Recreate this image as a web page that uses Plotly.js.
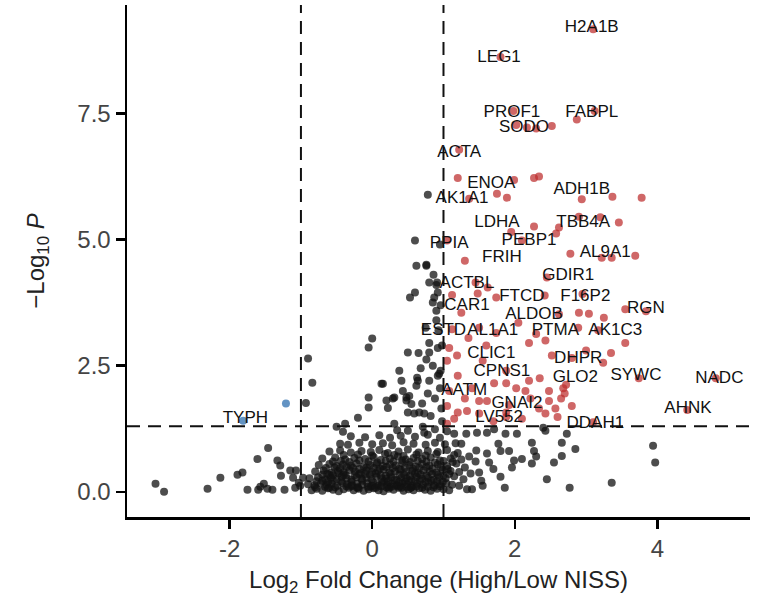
<!DOCTYPE html>
<html>
<head>
<meta charset="utf-8">
<script src="https://cdn.plot.ly/plotly-3.0.1.min.js"></script>
<style>html,body{margin:0;padding:0;background:#fff;}</style>
</head>
<body>
<div id="chart" style="width:768px;height:610px;"></div>
<script>
// ---- Data ----
// Non-significant proteins (black)
const nsX = [
-3.04,-2.92,-2.31,-2.13,-1.89,-1.82,-1.75,-1.61,-1.46,-1.57,-1.52,-1.47,-1.40,-1.60,-1.33,-1.29,-1.28,-1.23,-1.15,-1.07,-1.11,-1.08,-1.01,-0.97,-1.03,
-0.90,-0.84,-0.93,-0.05,0.00,-0.05,-0.05,-0.20,-0.50,-0.38,-0.41,0.13,0.20,0.22,0.31,0.43,0.48,0.52,0.55,0.59,0.62,0.64,0.31,0.73,0.82,0.70,0.78,0.80,0.68,0.76,0.85,0.92,0.95,0.88,0.97,0.65,0.80,0.92,0.75,0.90,0.93,0.85,0.92,0.60,0.80,0.86,0.76,0.60,0.78,0.95,0.90,0.96,0.98,0.98,0.96,0.62,0.76,0.91,0.53,0.87,0.90,0.50,0.80,0.38,0.63,0.94,0.66,0.15,0.41,0.29,0.48,0.71,0.50,
-0.85,-0.78,-0.70,-0.62,-0.55,-0.47,-0.40,-0.33,-0.26,-0.19,-0.12,-0.05,0.02,0.09,0.16,0.23,0.30,0.37,0.44,0.51,0.58,0.66,0.74,0.82,0.91,1.00,1.08,
-0.90,-0.81,-0.72,-0.64,-0.57,-0.49,-0.42,-0.35,-0.28,-0.21,-0.14,-0.07,0.00,0.07,0.14,0.21,0.28,0.35,0.42,0.49,0.56,0.63,0.71,0.79,0.87,0.95,1.04,1.12,1.22,
-0.88,-0.76,-0.66,-0.58,-0.50,-0.43,-0.36,-0.29,-0.22,-0.15,-0.08,-0.01,0.06,0.13,0.20,0.27,0.34,0.41,0.48,0.55,0.62,0.70,0.78,0.86,0.94,1.03,1.15,1.28,
-0.80,-0.68,-0.57,-0.48,-0.40,-0.32,-0.24,-0.16,-0.08,0.00,0.08,0.16,0.24,0.32,0.40,0.48,0.56,0.64,0.72,0.81,0.90,0.99,1.10,1.22,1.38,
-0.75,-0.60,-0.50,-0.41,-0.30,-0.22,-0.12,-0.03,0.06,0.15,0.25,0.33,0.42,0.52,0.61,0.70,0.80,0.92,1.05,1.18,1.30,
-0.70,-0.52,-0.38,-0.25,-0.10,0.02,0.12,0.25,0.36,0.47,0.58,0.70,0.82,0.95,1.10,1.25,
-0.60,-0.45,-0.30,-0.15,-0.02,0.10,0.22,0.37,0.50,0.65,0.78,0.92,1.05,1.20,
-0.45,-0.34,-0.18,0.00,0.15,0.28,0.44,0.58,0.75,0.88,1.02,1.17,
-0.30,-0.10,0.10,0.25,0.40,0.60,0.78,0.95,1.15,
0.35,0.50,0.73,0.88,1.05,
-0.52,-0.36,-0.21,-0.06,0.09,0.24,0.39,0.54,-0.44,-0.29,-0.14,0.01,0.17,0.31,0.46,-0.60,-0.37,-0.10,0.19,0.45,
3.94,3.97,3.36,2.77,1.86,2.85,2.66,2.66,2.55,2.27,2.30,2.24,2.10,1.96,1.99,1.92,1.80,1.77,1.87,2.03,2.24,2.43,2.40,2.73,1.47,1.61,1.71,1.32,1.25,1.50,1.53,1.64,1.61,1.46,1.36,1.80,2.45,1.40,1.55,1.70,1.33,1.45,
-0.80,-0.66,-0.60,-0.29,-0.20,-0.02,0.05,0.13,0.20,0.27,0.34,0.41,0.48,0.55,0.62,0.70,0.78,0.86,0.95,
-0.78,-0.70,-0.62,-0.55,0.23,0.38,0.52,0.60,0.67,0.75,0.83,0.91,0.99,
-0.70,-0.63,-0.55,-0.47,-0.40,-0.25,-0.18,-0.03,0.05,0.12,0.26,0.38,0.53,0.60,0.68,0.76,0.84,0.92,1.00,1.08,
-0.65,-0.53,-0.45,-0.36,-0.27,-0.18,-0.08,0.02,0.11,0.20,0.29,0.38,0.46,0.57,0.66,0.76,0.85,0.96,1.06,
-0.55,-0.44,-0.32,-0.18,-0.05,0.07,0.19,0.30,0.42,0.53,0.64,0.76,0.88,1.00,1.13,
-0.40,-0.20,0.00,0.18,0.31,0.44,0.62,0.75,0.90,1.15
];
const nsY = [
0.16,0.00,0.06,0.28,0.34,0.38,0.04,0.65,0.87,0.10,0.16,0.06,0.04,0.04,0.62,0.52,0.32,0.04,0.42,0.42,0.28,0.08,0.12,0.28,0.18,
2.64,2.16,1.76,2.86,3.04,1.87,1.67,1.47,1.29,1.35,1.19,2.14,1.81,1.66,1.87,2.00,1.81,1.90,1.74,1.55,2.10,2.20,1.35,1.55,1.50,1.75,1.95,2.20,2.45,2.62,2.50,2.30,2.05,1.85,1.65,2.75,2.95,2.85,3.25,3.40,3.20,3.75,3.95,3.95,4.15,4.30,4.50,4.98,5.89,4.90,4.10,3.70,2.90,1.40,2.40,4.48,4.48,4.15,3.85,3.85,3.59,2.76,2.76,2.40,2.26,2.34,1.57,2.14,2.20,1.85,1.87,1.29,1.57,
0.03,0.06,0.02,0.07,0.04,0.01,0.05,0.08,0.03,0.06,0.02,0.05,0.07,0.03,0.01,0.06,0.04,0.08,0.02,0.05,0.03,0.07,0.04,0.02,0.06,0.05,0.03,
0.15,0.13,0.17,0.14,0.16,0.12,0.18,0.15,0.13,0.16,0.14,0.17,0.12,0.15,0.18,0.14,0.16,0.13,0.17,0.15,0.12,0.16,0.14,0.18,0.13,0.15,0.17,0.14,0.12,
0.27,0.29,0.25,0.28,0.26,0.30,0.27,0.24,0.29,0.26,0.28,0.25,0.30,0.27,0.26,0.29,0.24,0.28,0.27,0.25,0.30,0.26,0.28,0.24,0.29,0.27,0.31,0.25,
0.40,0.42,0.38,0.41,0.39,0.43,0.40,0.37,0.42,0.39,0.41,0.44,0.38,0.40,0.43,0.39,0.41,0.37,0.42,0.40,0.38,0.43,0.41,0.39,0.36,
0.53,0.55,0.51,0.54,0.52,0.56,0.50,0.53,0.55,0.51,0.54,0.52,0.57,0.53,0.50,0.55,0.52,0.54,0.51,0.56,0.48,
0.66,0.68,0.64,0.67,0.65,0.69,0.63,0.66,0.70,0.64,0.67,0.65,0.68,0.62,0.66,0.64,
0.80,0.82,0.78,0.81,0.79,0.83,0.77,0.80,0.84,0.78,0.81,0.79,0.83,0.77,
0.95,0.93,0.97,0.94,0.96,0.92,0.98,0.95,0.93,0.97,0.94,0.96,
1.10,1.08,1.12,1.07,1.11,1.09,1.13,1.07,1.15,
1.22,1.21,1.17,1.24,1.20,
0.09,0.11,0.08,0.10,0.12,0.09,0.11,0.08,0.21,0.20,0.22,0.19,0.21,0.23,0.20,0.34,0.33,0.35,0.32,0.34,
0.91,0.58,0.18,0.08,0.08,0.85,0.97,0.71,0.58,0.81,0.70,0.56,0.65,0.48,0.62,0.81,0.81,0.95,1.15,1.15,0.97,1.21,1.27,1.15,1.17,1.17,1.24,1.15,0.95,0.38,0.22,0.58,0.76,0.82,0.70,0.30,0.25,0.05,0.12,0.45,0.05,0.60,
0.09,0.10,0.08,0.11,0.09,0.10,0.08,0.11,0.09,0.10,0.12,0.08,0.10,0.09,0.11,0.08,0.10,0.09,0.11,
0.21,0.22,0.20,0.23,0.21,0.20,0.22,0.21,0.23,0.20,0.22,0.21,0.20,
0.34,0.35,0.33,0.36,0.34,0.33,0.35,0.34,0.36,0.33,0.35,0.34,0.32,0.36,0.34,0.33,0.35,0.34,0.32,0.35,
0.47,0.48,0.46,0.49,0.47,0.45,0.48,0.47,0.46,0.49,0.47,0.45,0.48,0.46,0.47,0.49,0.46,0.48,0.45,
0.60,0.61,0.59,0.62,0.60,0.58,0.61,0.60,0.62,0.59,0.61,0.60,0.58,0.61,0.59,
0.73,0.74,0.72,0.75,0.73,0.71,0.74,0.72,0.75,0.73
];

// Up-regulated significant proteins (red)
const upX = [3.10,1.80,1.98,2.87,3.12,2.02,2.17,2.52,2.30,1.22,1.20,1.99,2.27,2.34,1.36,1.75,1.89,2.94,3.37,3.78,2.27,2.62,2.90,3.20,3.46,2.58,1.95,2.10,1.05,1.30,2.78,3.22,3.36,3.69,2.45,1.45,1.62,1.48,1.74,2.42,2.95,2.90,2.62,3.04,3.25,3.84,3.55,1.12,1.50,1.74,2.30,2.43,2.20,2.89,3.17,3.55,3.35,3.24,2.80,2.52,1.08,1.19,1.05,1.55,1.88,1.20,2.35,1.71,1.88,2.02,2.20,2.15,2.48,2.68,2.72,1.08,1.20,1.33,1.50,1.05,1.88,1.61,2.22,2.48,2.65,2.70,1.88,1.50,2.34,2.57,2.60,1.05,1.70,2.10,2.43,3.74,4.82,4.42,3.10,1.30,1.40,1.92,2.80,1.15,3.00,2.05,1.35,1.60,1.12,1.25];
const upY = [9.17,8.62,7.55,7.38,7.55,7.27,7.22,7.25,7.20,6.78,6.22,6.18,6.22,6.25,5.81,5.91,5.83,5.80,5.85,5.83,5.26,5.24,5.45,5.44,5.34,5.12,5.15,4.98,4.98,4.58,4.72,4.64,4.64,4.68,4.25,4.15,4.05,3.93,3.85,3.89,3.92,3.55,3.52,3.53,3.45,3.58,3.62,3.22,3.25,3.15,3.13,3.00,2.95,3.25,3.20,2.95,2.75,2.56,2.65,2.70,2.85,2.70,2.60,2.60,2.40,2.30,2.25,2.15,2.15,2.05,2.20,2.00,2.00,2.05,2.12,2.00,1.57,1.60,1.80,1.70,1.57,1.80,1.85,1.80,1.85,1.95,1.48,1.55,1.65,1.65,1.48,1.35,1.40,1.45,1.55,2.25,2.25,1.62,1.38,1.85,2.05,1.72,1.70,1.45,2.80,3.35,3.05,2.90,3.90,3.55];

// Down-regulated significant proteins (blue)
const downX = [-1.81,-1.21];
const downY = [1.41,1.75];

// Gene labels
const labelText = ["H2A1B","LEG1","PROF1","FABPL","SODO","ACTA","ENOA","ADH1B","AK1A1","LDHA","TBB4A","PEBP1","PPIA","AL9A1","FRIH","GDIR1","ACTBL","FTCD","F16P2","CAR1","RGN","ALDOB","ESTD","AL1A1","PTMA","AK1C3","CLIC1","DHPR","CPNS1","GLO2","SYWC","NADC","AATM","GNAI2","AHNK","LV552","DDAH1","TYPH"];
const labelX = [3.08,1.78,1.96,3.08,2.13,1.22,1.67,2.94,1.26,1.75,2.96,2.20,1.08,3.27,1.82,2.75,1.33,2.10,2.99,1.33,3.84,2.27,1.00,1.69,2.57,3.41,1.67,2.89,1.82,2.85,3.70,4.87,1.29,2.03,4.43,1.78,3.13,-1.78];
const labelY = [9.19,8.61,7.52,7.52,7.22,6.73,6.11,5.99,5.81,5.34,5.34,4.98,4.92,4.74,4.64,4.29,4.13,3.87,3.87,3.69,3.63,3.51,3.19,3.19,3.19,3.19,2.74,2.64,2.38,2.26,2.30,2.24,2.00,1.75,1.65,1.47,1.35,1.45];

const xTicks = [-2, 0, 2, 4];
const yTicks = [0, 2.5, 5, 7.5];
const yTickText = ["0.0", "2.5", "5.0", "7.5"];
const fcCut = [-1, 1];
const pCut = 1.30103;

// ---- Chart ----
const FONT = "Liberation Sans, Arial, Helvetica, sans-serif";
const traces = [
  {x: nsX, y: nsY, type: "scatter", mode: "markers", hoverinfo: "skip",
   marker: {size: 8, color: "rgba(18,18,18,0.75)", line: {width: 0}}},
  {x: upX, y: upY, type: "scatter", mode: "markers", hoverinfo: "skip",
   marker: {size: 8, color: "rgba(188,45,45,0.72)", line: {width: 0}}},
  {x: downX, y: downY, type: "scatter", mode: "markers", hoverinfo: "skip",
   marker: {size: 8, color: "rgba(60,120,180,0.8)", line: {width: 0}}},
  {x: labelX, y: labelY, text: labelText, type: "scatter", mode: "text", hoverinfo: "skip",
   textposition: "middle center", cliponaxis: false,
   textfont: {family: FONT, size: 17, color: "#111"}}
];

const shapes = [];
fcCut.forEach(v => shapes.push({type: "line", xref: "x", yref: "paper", x0: v, x1: v, y0: 0, y1: 1,
  line: {color: "#111", width: 2, dash: "13px,8px"}}));
shapes.push({type: "line", xref: "paper", yref: "y", x0: 0, x1: 1, y0: pCut, y1: pCut,
  line: {color: "#111", width: 2, dash: "13px,8px"}});

const layout = {
  width: 768, height: 610,
  margin: {l: 127, r: 18, t: 5, b: 93},
  paper_bgcolor: "#fff", plot_bgcolor: "#fff",
  showlegend: false,
  font: {family: FONT, color: "#000"},
  xaxis: {
    range: [-3.44, 5.30], tickvals: xTicks, ticktext: xTicks.map(String),
    showgrid: false, zeroline: false, showline: true, linecolor: "#000", linewidth: 2.5,
    ticks: "outside", ticklen: 9, tickwidth: 2.5, tickcolor: "#000",
    tickfont: {family: FONT, size: 24, color: "#444"},
    title: {text: "Log<sub>2</sub> Fold Change (High/Low NISS)", font: {family: FONT, size: 24, color: "#222"}, standoff: 10}
  },
  yaxis: {
    range: [-0.5, 9.65], tickvals: yTicks, ticktext: yTickText,
    showgrid: false, zeroline: false, showline: true, linecolor: "#000", linewidth: 2.5,
    ticks: "outside", ticklen: 9, tickwidth: 2.5, tickcolor: "#000",
    tickfont: {family: FONT, size: 24, color: "#444"},
    title: {text: "\u2212Log<sub>10</sub> <i>P</i>", font: {family: FONT, size: 24, color: "#222"}, standoff: 26}
  },
  shapes: shapes
};

Plotly.newPlot("chart", traces, layout, {staticPlot: true, displayModeBar: false});
</script>
</body>
</html>
